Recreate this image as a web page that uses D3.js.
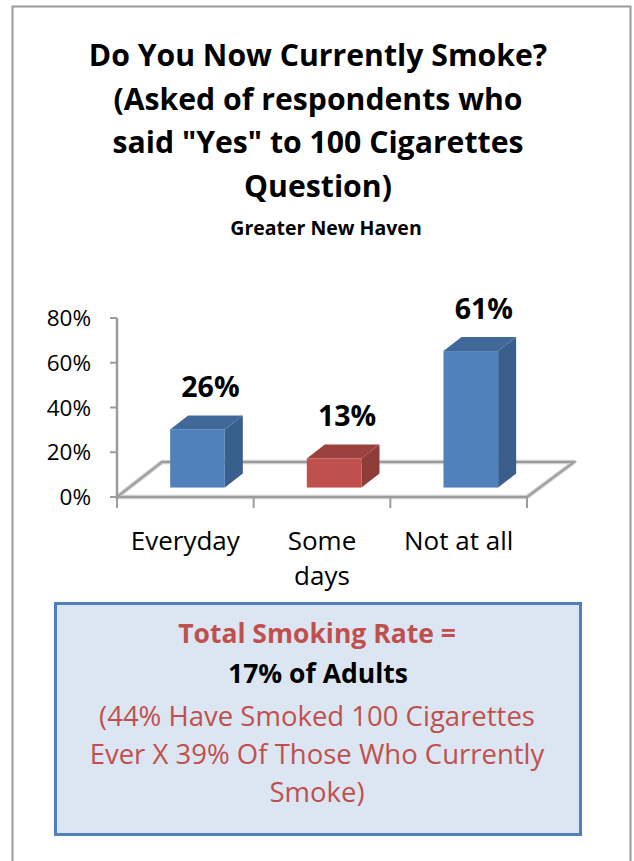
<!DOCTYPE html>
<html>
<head>
<meta charset="utf-8">
<script src="https://cdn.jsdelivr.net/npm/d3@7"></script>
<style>
  html, body { margin: 0; padding: 0; background: #fff; }
  svg { display: block; }
  text { font-family: "Open Sans", "DejaVu Sans", sans-serif; }
</style>
</head>
<body>
<svg id="chart" width="634" height="861"></svg>
<script>
// ---- data ----
const categories = ["Everyday", "Some days", "Not at all"];
const values = [26, 13, 61];
const valueLabels = ["26%", "13%", "61%"];
const barColors = ["#4f81bd", "#c0504d", "#4f81bd"];
const yTicks = [0, 20, 40, 60, 80];
const titleLines = ["Do You Now Currently Smoke?", "(Asked of respondents who", "said \"Yes\" to 100 Cigarettes", "Question)"];
const subtitle = "Greater New Haven";
const boxBold = ["Total Smoking Rate =", "17% of Adults"];
const boxNote = ["(44% Have Smoked 100 Cigarettes", "Ever X 39% Of Those Who Currently", "Smoke)"];

const svg = d3.select("#chart");

// outer frame
svg.append("rect").attr("x", 12.5).attr("y", 6.5).attr("width", 618).attr("height", 870)
  .attr("fill", "#fff").attr("stroke", "#9a9a9a").attr("stroke-width", 2);

// title
svg.append("g").selectAll("text").data(titleLines).join("text")
  .attr("x", 318).attr("y", (d, i) => 66 + i * 43.7)
  .attr("text-anchor", "middle").attr("font-weight", 700).attr("font-size", 30.2)
  .attr("fill", "#000").text(d => d);
svg.append("text").attr("x", 326).attr("y", 235).attr("text-anchor", "middle")
  .attr("font-weight", 700).attr("font-size", 19.5).attr("fill", "#000").text(subtitle);

// ---- 3D chart geometry ----
const x0 = 117, x1 = 527, yBase = 497;
const floorDx = 45, floorDy = -35;
const y = d3.scaleLinear().domain([0, 80]).range([yBase, 318]);
const xBand = d3.scaleBand().domain(categories).range([x0, x1]).paddingInner(0).paddingOuter(0);
const barFrac = 0.4;
const frontDepth = 0.27, depthFrac = 0.4;

const floor = svg.append("g");
const floorPts = [[x0, yBase], [x1, yBase], [x1 + floorDx + 2, yBase + floorDy], [x0 + floorDx, yBase + floorDy]];
floor.append("path")
  .attr("d", d3.line()(floorPts) + "Z")
  .attr("fill", "none").attr("stroke", "#cfcfcf").attr("stroke-width", 4.5).attr("stroke-linejoin", "round");
floor.append("path")
  .attr("d", d3.line()(floorPts) + "Z")
  .attr("fill", "none").attr("stroke", "#9c9c9c").attr("stroke-width", 2);

// y axis
const yAxisG = svg.append("g");
yAxisG.append("line").attr("x1", x0).attr("x2", x0).attr("y1", y(80)).attr("y2", yBase)
  .attr("stroke", "#9c9c9c").attr("stroke-width", 2.5);
yAxisG.selectAll(".tick").data(yTicks).join("line")
  .attr("x1", x0 - 7).attr("x2", x0).attr("y1", d => y(d)).attr("y2", d => y(d))
  .attr("stroke", "#9c9c9c").attr("stroke-width", 2);
yAxisG.selectAll("text").data(yTicks).join("text")
  .attr("x", 91).attr("y", d => y(d) + 8).attr("text-anchor", "end")
  .attr("font-size", 22.5).attr("fill", "#000").text(d => d + "%");

// x ticks
const xTickPos = categories.map(c => xBand(c)).concat([x1]);
svg.append("g").selectAll("line").data(xTickPos).join("line")
  .attr("x1", d => d).attr("x2", d => d).attr("y1", yBase).attr("y2", yBase + 11)
  .attr("stroke", "#9c9c9c").attr("stroke-width", 2);

// category labels
const catG = svg.append("g");
categories.forEach(c => {
  const words = c === "Some days" ? ["Some", "days"] : [c];
  words.forEach((w, i) => {
    catG.append("text").attr("x", xBand(c) + xBand.bandwidth() / 2).attr("y", 550 + i * 35)
      .attr("text-anchor", "middle").attr("font-size", 26).attr("fill", "#000").text(w);
  });
});

// bars
function shade(col, k) { return d3.color(col).darker(k).formatHex(); }
const barsG = svg.append("g");
categories.forEach((c, i) => {
  const bw = xBand.bandwidth() * barFrac;
  const fx = xBand(c) + (xBand.bandwidth() - bw) / 2 + frontDepth * floorDx;
  const fb = yBase + frontDepth * floorDy;
  const h = y(0) - y(values[i]);
  const ft = fb - h;
  const ddx = depthFrac * floorDx, ddy = depthFrac * floorDy;
  const col = barColors[i];
  barsG.append("path").attr("d", d3.line()([[fx + bw, ft], [fx + bw + ddx, ft + ddy], [fx + bw + ddx, fb + ddy], [fx + bw, fb]]) + "Z")
    .attr("fill", shade(col, 0.85));
  barsG.append("path").attr("d", d3.line()([[fx, ft], [fx + ddx, ft + ddy], [fx + bw + ddx, ft + ddy], [fx + bw, ft]]) + "Z")
    .attr("fill", shade(col, 0.6));
  barsG.append("rect").attr("x", fx).attr("y", ft).attr("width", bw).attr("height", h).attr("fill", col);
  svg.append("text").attr("x", fx + bw / 2 + ddx / 2 + 4).attr("y", ft + ddy - 18)
    .attr("text-anchor", "middle").attr("font-weight", 700).attr("font-size", 28.5)
    .attr("fill", "#000").text(valueLabels[i]);
});

// info box
svg.append("rect").attr("x", 55.5).attr("y", 603.5).attr("width", 525).attr("height", 231)
  .attr("fill", "#dce6f2").attr("stroke", "#4f81bd").attr("stroke-width", 3);
svg.append("text").attr("x", 317).attr("y", 643).attr("text-anchor", "middle")
  .attr("font-weight", 700).attr("font-size", 26.5).attr("fill", "#c0504d").text(boxBold[0]);
svg.append("text").attr("x", 318).attr("y", 683).attr("text-anchor", "middle")
  .attr("font-weight", 700).attr("font-size", 26.5).attr("fill", "#000").text(boxBold[1]);
svg.selectAll(".note").data(boxNote).join("text").attr("class", "note")
  .attr("x", 317).attr("y", (d, i) => 726 + i * 38)
  .attr("text-anchor", "middle").attr("font-size", 27.5).attr("fill", "#c0504d").text(d => d);
</script>
</body>
</html>
